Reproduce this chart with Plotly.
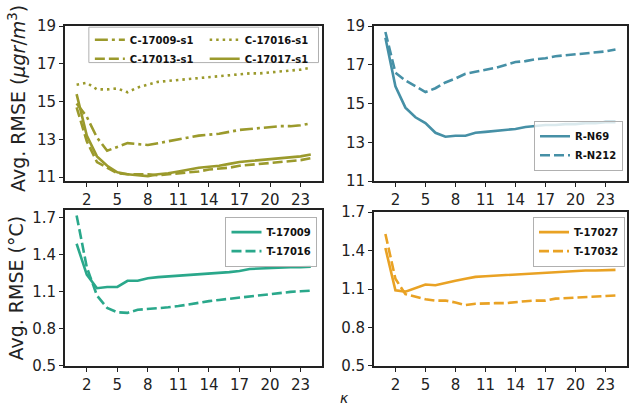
import plotly.graph_objects as go

k = list(range(1, 25))

# Top-left: PM (C-*) series
c17009 = [14.9, 14.2, 13.1, 12.4, 12.6, 12.8, 12.75, 12.7, 12.8, 12.9, 13.0, 13.1, 13.2, 13.25, 13.3, 13.4, 13.5, 13.55, 13.6, 13.65, 13.7, 13.7, 13.75, 13.85]
c17013 = [14.7, 12.9, 11.8, 11.5, 11.2, 11.15, 11.15, 11.15, 11.1, 11.15, 11.2, 11.25, 11.3, 11.4, 11.45, 11.5, 11.6, 11.65, 11.7, 11.75, 11.8, 11.85, 11.9, 12.0]
c17016 = [15.9, 16.0, 15.65, 15.65, 15.7, 15.5, 15.75, 15.9, 16.05, 16.1, 16.15, 16.2, 16.25, 16.3, 16.35, 16.4, 16.45, 16.5, 16.5, 16.55, 16.6, 16.65, 16.7, 16.8]
c17017 = [15.4, 13.2, 12.1, 11.6, 11.25, 11.15, 11.1, 11.05, 11.15, 11.2, 11.3, 11.4, 11.5, 11.55, 11.6, 11.7, 11.8, 11.85, 11.9, 11.95, 12.0, 12.05, 12.1, 12.2]

# Top-right: R-* series
rn69 = [18.4, 15.9, 14.8, 14.3, 14.0, 13.5, 13.3, 13.35, 13.35, 13.5, 13.55, 13.6, 13.65, 13.7, 13.8, 13.85, 13.9, 13.9, 13.95, 13.95, 14.0, 14.0, 14.05, 14.05]
rn212 = [18.7, 16.6, 16.2, 15.9, 15.6, 15.8, 16.1, 16.3, 16.55, 16.65, 16.75, 16.85, 17.0, 17.15, 17.2, 17.3, 17.35, 17.45, 17.5, 17.55, 17.6, 17.65, 17.7, 17.8]

# Bottom-left: temperature
t17009 = [1.49, 1.24, 1.13, 1.14, 1.14, 1.19, 1.19, 1.21, 1.22, 1.225, 1.23, 1.235, 1.24, 1.245, 1.25, 1.26, 1.27, 1.285, 1.29, 1.295, 1.295, 1.3, 1.3, 1.305]
t17016 = [1.72, 1.30, 1.07, 0.97, 0.935, 0.93, 0.955, 0.96, 0.965, 0.975, 0.985, 1.0, 1.01, 1.025, 1.035, 1.045, 1.055, 1.065, 1.075, 1.085, 1.095, 1.1, 1.105, 1.11]

# Bottom-right: temperature
t17027 = [1.42, 1.09, 1.08, 1.11, 1.135, 1.13, 1.15, 1.165, 1.18, 1.195, 1.2, 1.205, 1.21, 1.215, 1.22, 1.225, 1.23, 1.235, 1.24, 1.24, 1.245, 1.245, 1.25, 1.25]
t17032 = [1.53, 1.18, 1.06, 1.04, 1.02, 1.01, 1.01, 0.995, 0.975, 0.985, 0.99, 0.99, 0.99, 1.0, 1.005, 1.01, 1.01, 1.025, 1.03, 1.035, 1.04, 1.045, 1.05, 1.05]

xticks = [2, 5, 8, 11, 14, 17, 20, 23]
yticks_top = [11, 13, 15, 17, 19]
yticks_bot = [0.5, 0.8, 1.1, 1.4, 1.7]

OLIVE = "#9b9a2c"
TEAL = "#4690a6"
GREEN = "#2aa88b"
ORANGE = "#e9a224"

W, H = 629, 418
DASH = "10px,4px"
DOT = "2.5px,4px"
DASHDOT = "13px,4px,3px,4px"
LW = 2.6

fig = go.Figure()

def add(x, y, name, color, dash, xa, ya, legend, rank):
    fig.add_trace(go.Scatter(x=x, y=y, mode="lines", name=name,
                             line=dict(color=color, width=LW, dash=dash),
                             xaxis=xa, yaxis=ya, legend=legend, legendrank=rank))

add(k, c17009, "C-17009-s1", OLIVE, DASHDOT, "x", "y", "legend", 1)
add(k, c17013, "C-17013-s1", OLIVE, DASH, "x", "y", "legend", 2)
add(k, c17016, "C-17016-s1", OLIVE, DOT, "x", "y", "legend2", 1)
add(k, c17017, "C-17017-s1", OLIVE, "solid", "x", "y", "legend2", 2)
add(k, rn69, "R-N69", TEAL, "solid", "x2", "y2", "legend3", 1)
add(k, rn212, "R-N212", TEAL, DASH, "x2", "y2", "legend3", 2)
add(k, t17009, "T-17009", GREEN, "solid", "x3", "y3", "legend4", 1)
add(k, t17016, "T-17016", GREEN, DASH, "x3", "y3", "legend4", 2)
add(k, t17027, "T-17027", ORANGE, "solid", "x4", "y4", "legend5", 1)
add(k, t17032, "T-17032", ORANGE, DASH, "x4", "y4", "legend5", 2)

tickfont = dict(family="DejaVu Sans", size=15, color="#222222")

def xax(domain, anchor):
    return dict(domain=domain, anchor=anchor, range=[-0.15, 25.15], tickvals=xticks,
                showgrid=False, zeroline=False, showline=True, linecolor="#222222",
                linewidth=1.5, mirror=True, ticks="outside", ticklen=4, tickwidth=1.2,
                tickcolor="#222222", tickfont=tickfont)

def yax(domain, anchor, rng, tv):
    return dict(domain=domain, anchor=anchor, range=rng, tickvals=tv,
                showgrid=False, zeroline=False, showline=True, linecolor="#222222",
                linewidth=1.5, mirror=True, ticks="outside", ticklen=4, tickwidth=1.2,
                tickcolor="#222222", tickfont=tickfont)

xl = [65 / W, 323 / W]
xr = [374.5 / W, 628 / W]
yt = [1 - 180 / H, 1 - 18 / H]
ybl = [1 - 373 / H, 1 - 210 / H]
ybr = [1 - 373 / H, 1 - 212.3 / H]

legfont = dict(family="DejaVu Sans", size=10, color="#111111", weight="bold")

def leg(x, y, xanchor, yanchor, border=True):
    return dict(x=x, y=y, xanchor=xanchor, yanchor=yanchor, xref="paper", yref="paper",
                font=legfont, bgcolor="rgba(255,255,255,0.8)" if border else "rgba(0,0,0,0)",
                bordercolor="#b0b0b0", borderwidth=1 if border else 0,
                orientation="v", itemwidth=30, tracegroupgap=0, traceorder="normal")

fig.update_layout(
    width=W, height=H, margin=dict(l=0, r=0, t=0, b=0),
    paper_bgcolor="white", plot_bgcolor="white", showlegend=True,
    xaxis=xax(xl, "y"), yaxis=yax(yt, "x", [10.78, 19], yticks_top),
    xaxis2=xax(xr, "y2"), yaxis2=yax(yt, "x2", [11, 19], yticks_top),
    xaxis3=xax(xl, "y3"), yaxis3=yax(ybl, "x3", [0.5, 1.764], yticks_bot),
    xaxis4=xax(xr, "y4"), yaxis4=yax(ybr, "x4", [0.5, 1.7], yticks_bot),
    legend=leg(90 / W, 1 - 17 / H, "left", "top", border=False),
    legend2=leg(205 / W, 1 - 17 / H, "left", "top", border=False),
    legend3=leg(624 / W, 1 - 169 / H, "right", "bottom"),
    legend4=leg(318 / W, 1 - 217 / H, "right", "top"),
    legend5=leg(626 / W, 1 - 217 / H, "right", "top"),
    shapes=[dict(type="rect", xref="paper", yref="paper",
                 x0=89 / W, x1=319 / W, y0=1 - 56 / H, y1=1 - 19 / H,
                 line=dict(color="#b0b0b0", width=1), fillcolor="rgba(255,255,255,0)",
                 layer="below")],
    annotations=[
        dict(text="Avg. RMSE (<i>μgr</i>/<i>m</i><sup>3</sup>)", x=17 / W, y=1 - 93 / H,
             xref="paper", yref="paper", xanchor="center", yanchor="middle",
             textangle=-90, showarrow=False,
             font=dict(family="DejaVu Sans", size=19, color="#222222")),
        dict(text="Avg. RMSE (°C)", x=16 / W, y=1 - 291 / H,
             xref="paper", yref="paper", xanchor="center", yanchor="middle",
             textangle=-90, showarrow=False,
             font=dict(family="DejaVu Sans", size=19, color="#222222")),
        dict(text="<i>κ</i>", x=345 / W, y=1 - 406 / H, xref="paper", yref="paper",
             xanchor="center", yanchor="middle", showarrow=False,
             font=dict(family="DejaVu Sans", size=14, color="#222222")),
    ],
)

fig.write_html("out.html")
